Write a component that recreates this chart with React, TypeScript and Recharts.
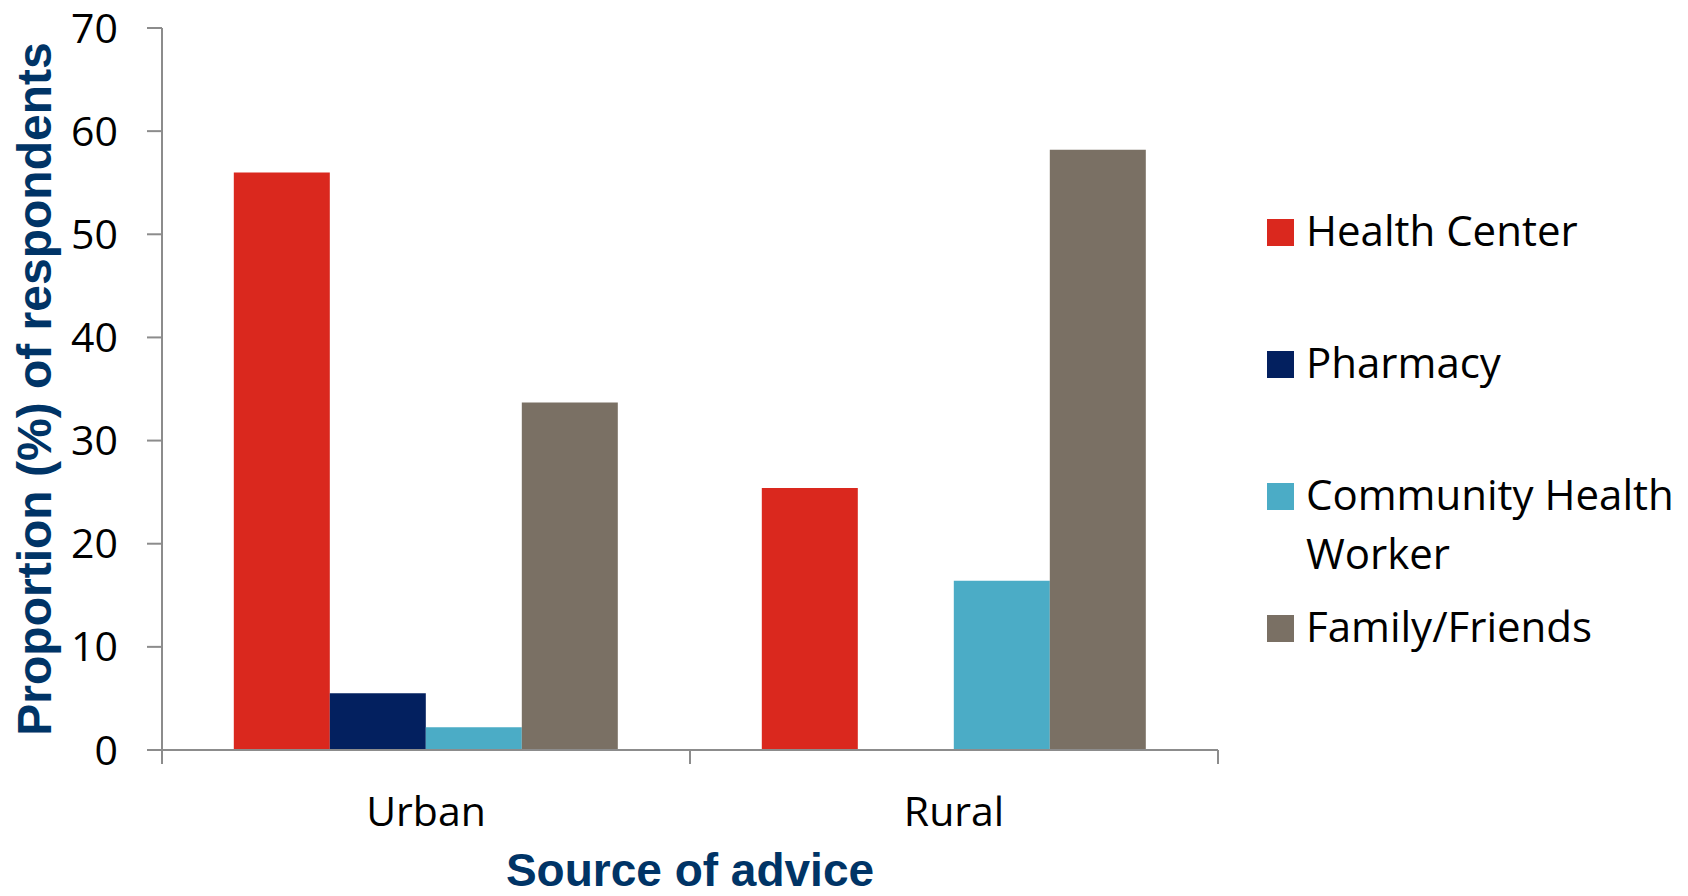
import React from 'react';
import { BarChart, Bar, XAxis, YAxis, Legend } from 'recharts';

const categories = ['Urban', 'Rural'];
const healthCenter = [56, 25.4];
const pharmacy = [5.5, 0];
const communityHealthWorker = [2.2, 16.4];
const familyFriends = [33.7, 58.2];
const yTicks = [0, 10, 20, 30, 40, 50, 60, 70];

const seriesNames = ['Health Center', 'Pharmacy', 'Community Health Worker', 'Family/Friends'];
const seriesKeys = ['hc', 'ph', 'chw', 'ff'];
const seriesColors = ['#DA281E', '#03205F', '#4BACC6', '#7A7064'];

const data = categories.map((c, i) => ({
  name: c,
  hc: healthCenter[i],
  ph: pharmacy[i],
  chw: communityHealthWorker[i],
  ff: familyFriends[i],
}));

const AXIS = '#8C8C8C';
const TITLE = '#003466';
const X_TICK_SIZE = 6;
const X_TICK_MARGIN = 41;

const CatTick = (props: any) => {
  const { x, y, payload } = props;
  const off = payload && typeof payload.offset === 'number' ? payload.offset : 0;
  const axisY = y - X_TICK_SIZE - X_TICK_MARGIN;
  return (
    <g>
      <line x1={x - off} x2={x - off} y1={axisY} y2={axisY + 14} stroke={AXIS} strokeWidth={2} />
      <line x1={x + off} x2={x + off} y1={axisY} y2={axisY + 14} stroke={AXIS} strokeWidth={2} />
      <text
        x={x}
        y={y}
        dy="0.71em"
        textAnchor="middle"
        fill="#000"
        fontSize={41}
        fontFamily='"Open Sans", sans-serif'
      >
        {payload.value}
      </text>
    </g>
  );
};

const renderLegend = (props: any) => {
  const payload = [...(props.payload || [])].sort(
    (a: any, b: any) => seriesNames.indexOf(a.value) - seriesNames.indexOf(b.value)
  );
  return (
    <div style={{ position: 'relative', width: 420, height: 500 }}>
      {payload.map((p: any, i: number) => (
        <div
          key={i}
          style={{
            position: 'absolute',
            left: 0,
            top: i * 132,
            display: 'flex',
            alignItems: 'flex-start',
          }}
        >
          <div style={{ width: 27, height: 27, background: p.color, marginTop: 19, flex: 'none' }} />
          <div
            style={{
              marginLeft: 12,
              width: 374,
              fontFamily: '"Open Sans", sans-serif',
              fontSize: 42,
              lineHeight: '59px',
              color: '#000',
              textAlign: 'left',
            }}
          >
            {p.value}
          </div>
        </div>
      ))}
    </div>
  );
};

export default function App() {
  return (
    <div style={{ position: 'absolute', left: 0, top: 0, width: 1688, height: 896, background: '#fff' }}>
      <BarChart
        width={1688}
        height={896}
        data={data}
        margin={{ top: 28, right: 470, left: 0, bottom: 0 }}
        barCategoryGap="13.6%"
        barGap={0}
      >
        <XAxis
          dataKey="name"
          height={146}
          axisLine={{ stroke: AXIS, strokeWidth: 2 }}
          tickLine={false}
          tickSize={X_TICK_SIZE}
          tickMargin={X_TICK_MARGIN}
          tick={<CatTick />}
          label={{
            content: (lp: any) => {
              const vb = lp.viewBox;
              return (
                <text
                  x={vb.x + vb.width / 2}
                  y={886}
                  textAnchor="middle"
                  fill={TITLE}
                  fontFamily='"Liberation Sans", Arial, sans-serif'
                  fontWeight="bold"
                  fontSize={46}
                >
                  Source of advice
                </text>
              );
            },
          }}
        />
        <YAxis
          width={162}
          domain={[0, 70]}
          ticks={yTicks}
          interval={0}
          axisLine={{ stroke: AXIS, strokeWidth: 2 }}
          tickLine={{ stroke: AXIS, strokeWidth: 2 }}
          tickSize={15}
          tickMargin={29}
          tick={{ fill: '#000', fontSize: 41, fontFamily: '"Open Sans", sans-serif' }}
          label={{
            content: (lp: any) => {
              const vb = lp.viewBox;
              const cy = vb.y + vb.height / 2;
              return (
                <text
                  x={50.5}
                  y={cy}
                  transform={`rotate(-90, 50.5, ${cy})`}
                  textAnchor="middle"
                  fill={TITLE}
                  fontFamily='"Liberation Sans", Arial, sans-serif'
                  fontWeight="bold"
                  fontSize={48}
                >
                  Proportion (%) of respondents
                </text>
              );
            },
          }}
        />
        <Legend
          layout="vertical"
          align="center"
          verticalAlign="middle"
          wrapperStyle={{ position: 'absolute', left: 1267, top: 200, width: 420 }}
          content={renderLegend}
        />
        {seriesKeys.map((k, i) => (
          <Bar
            key={k}
            dataKey={k}
            name={seriesNames[i]}
            fill={seriesColors[i]}
            isAnimationActive={false}
          />
        ))}
      </BarChart>
    </div>
  );
}
